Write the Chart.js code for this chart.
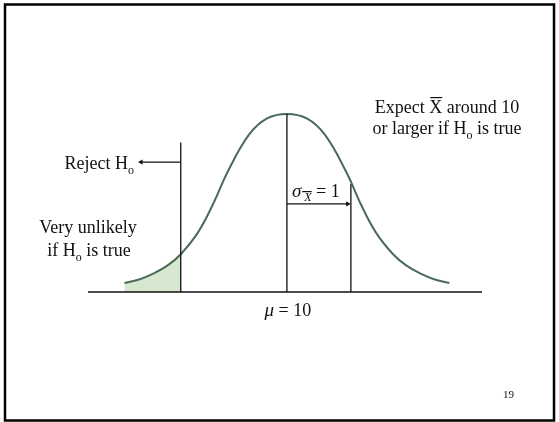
<!DOCTYPE html>
<html>
<head>
<meta charset="utf-8">
<script src="https://cdn.jsdelivr.net/npm/chart.js@4"></script>
<style>
  body { margin: 0; background: #fff; }
  canvas { display: block; }
</style>
</head>
<body>
<canvas id="chart" width="559" height="422"></canvas>
<script>
// curve heights (peak = 1)
const curveX = [7.46, 7.70, 7.91, 8.13, 8.34, 8.61, 8.84, 9.08, 9.41, 9.69, 10.0, 10.31, 10.59, 10.92, 11.16, 11.39, 11.66, 11.87, 12.09, 12.30, 12.54];
const curveY = [0.051, 0.072, 0.103, 0.148, 0.212, 0.335, 0.490, 0.680, 0.885, 0.975, 1.0, 0.975, 0.885, 0.680, 0.490, 0.335, 0.212, 0.148, 0.103, 0.072, 0.051];
const mu = 10;
const critical = 8.34;
const sigma = 1;
const rejectTop = 0.84;
const axisMin = 6.89, axisMax = 13.05;

const curvePts = curveX.map((x, i) => ({ x: x, y: curveY[i] }));
const tailPts = curvePts.filter(p => p.x <= critical);

const black = '#111';

const labels = {
    id: 'labels',
    afterDraw(chart) {
        const { ctx, scales: { x, y } } = chart;
        const big = '18px "Liberation Serif"';
        const sub = '12px "Liberation Serif"';
        const it = 'italic 19px "Liberation Serif"';
        const itSub = 'italic 12px "Liberation Serif"';

        // draws a list of text runs, some lowered (subscript) or overlined
        function runs(list, px, py, align) {
            let w = 0;
            list.forEach(r => { ctx.font = r.f; r.w = ctx.measureText(r.t).width; w += r.w; });
            let cx = align === 'center' ? px - w / 2 : align === 'right' ? px - w : px;
            ctx.textAlign = 'left';
            ctx.textBaseline = 'alphabetic';
            list.forEach(r => {
                ctx.font = r.f;
                ctx.fillText(r.t, cx, py + (r.dy || 0));
                if (r.over) {
                    ctx.fillRect(cx + 1, py + (r.dy || 0) - r.over, r.w - 1, 1.2);
                }
                cx += r.w;
            });
        }

        ctx.save();
        ctx.fillStyle = black;
        runs([{ t: 'Expect ', f: big }, { t: 'X', f: big, over: 16 }, { t: ' around 10', f: big }], 447, 113, 'center');
        runs([{ t: 'or larger if H', f: big }, { t: 'o', f: sub, dy: 5 }, { t: ' is true', f: big }], 447, 134, 'center');
        runs([{ t: 'Reject H', f: big }, { t: 'o', f: sub, dy: 5 }], 134, 169, 'right');
        runs([{ t: 'Very unlikely', f: big }], 88, 233, 'center');
        runs([{ t: 'if H', f: big }, { t: 'o', f: sub, dy: 5 }, { t: ' is true', f: big }], 89, 256, 'center');
        runs([{ t: '\u03c3', f: it }, { t: ' X', f: itSub, dy: 4, over: 10 }, { t: ' = 1', f: big }], x.getPixelForValue(mu) + 5, 197, 'left');
        runs([{ t: '\u03bc', f: it }, { t: ' = 10', f: big }], x.getPixelForValue(mu) + 1, 316, 'center');
        ctx.font = '11px "Liberation Serif"';
        ctx.fillText('19', 503, 398);

        // slide frame
        ctx.strokeStyle = '#000';
        ctx.lineWidth = 2.5;
        ctx.strokeRect(5, 4.5, 549, 416);
        ctx.restore();
    }
};

const line = (data, extra) => Object.assign({
    data: data,
    showLine: true,
    borderColor: black,
    borderWidth: 1.3,
    pointRadius: 0,
    fill: false,
    clip: false
}, extra);

new Chart(document.getElementById('chart').getContext('2d'), {
    type: 'scatter',
    data: {
        datasets: [
            line(tailPts, { backgroundColor: '#d7e8d0', borderWidth: 0, fill: 'origin', tension: 0.4, order: 5 }),
            line(curvePts, { borderColor: '#4b6a57', borderWidth: 2, tension: 0.4, order: 1 }),
            line([{ x: axisMin, y: 0 }, { x: axisMax, y: 0 }], { borderWidth: 1.6, order: 0 }),
            line([{ x: critical, y: 0 }, { x: critical, y: rejectTop }], { order: 0 }),
            line([{ x: mu, y: 0 }, { x: mu, y: 1 }], { order: 0 }),
            line([{ x: mu + sigma, y: 0 }, { x: mu + sigma, y: 0.605 }], { order: 0 }),
            // arrow: reject region
            line([{ x: critical, y: 0.73 }, { x: 7.72, y: 0.73 }], {
                pointRadius: [0, 3], pointStyle: 'triangle', rotation: -90,
                pointBackgroundColor: black, pointBorderWidth: 0, order: 0
            }),
            // arrow: one standard error
            line([{ x: mu, y: 0.495 }, { x: 10.95, y: 0.495 }], {
                pointRadius: [0, 3], pointStyle: 'triangle', rotation: 90,
                pointBackgroundColor: black, pointBorderWidth: 0, order: 0
            })
        ]
    },
    options: {
        responsive: false,
        animation: false,
        events: [],
        layout: { padding: { left: 88, right: 77, top: 78.4, bottom: 130 } },
        scales: {
            x: { type: 'linear', display: false, min: axisMin, max: axisMax },
            y: { display: false, min: 0, max: 1.2 }
        },
        plugins: { legend: { display: false }, tooltip: { enabled: false } }
    },
    plugins: [labels]
});
</script>
</body>
</html>
